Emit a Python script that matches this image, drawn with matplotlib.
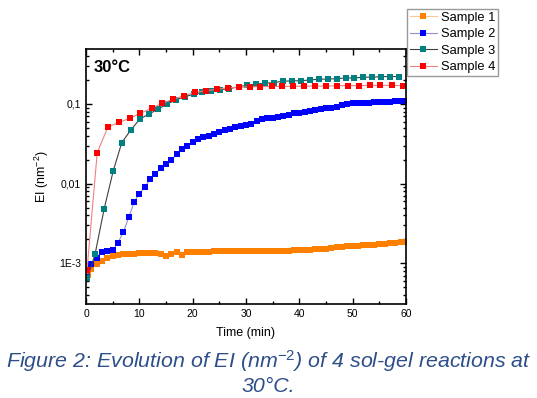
import numpy as np
import matplotlib
matplotlib.use("Agg")
import matplotlib.pyplot as plt
from matplotlib.ticker import FixedLocator, FuncFormatter, LogLocator, MultipleLocator

plt.rcParams['font.family'] = ['Liberation Sans', 'DejaVu Sans']
plt.rcParams['mathtext.fontset'] = 'custom'
plt.rcParams['mathtext.rm'] = 'Liberation Sans'
plt.rcParams['mathtext.it'] = 'Liberation Sans:italic'
plt.rcParams['mathtext.default'] = 'regular'

# Sample 1 (orange), about one point per minute
t1 = [0.3] + list(range(1, 61))
ei1 = [7.1e-4, 8.4e-4, 9.8e-4, 1.08e-3, 1.17e-3, 1.22e-3, 1.26e-3, 1.29e-3, 1.31e-3, 1.32e-3,
       1.33e-3, 1.35e-3, 1.36e-3, 1.36e-3, 1.30e-3, 1.22e-3, 1.32e-3, 1.38e-3, 1.27e-3, 1.38e-3,
       1.39e-3, 1.39e-3, 1.40e-3, 1.40e-3, 1.41e-3, 1.41e-3, 1.42e-3, 1.42e-3, 1.43e-3, 1.42e-3,
       1.42e-3, 1.42e-3, 1.43e-3, 1.43e-3, 1.42e-3, 1.43e-3, 1.43e-3, 1.44e-3, 1.44e-3, 1.45e-3,
       1.46e-3, 1.47e-3, 1.48e-3, 1.49e-3, 1.50e-3, 1.51e-3, 1.54e-3, 1.58e-3, 1.62e-3, 1.64e-3,
       1.65e-3, 1.66e-3, 1.68e-3, 1.70e-3, 1.72e-3, 1.74e-3, 1.76e-3, 1.78e-3, 1.80e-3, 1.83e-3,
       1.86e-3]

# Sample 2 (blue)
t2 = [0.25] + list(range(1, 61))
ei2 = [6.7e-4, 9.8e-4, 1.18e-3, 1.38e-3, 1.43e-3, 1.45e-3, 1.82e-3, 2.45e-3, 3.76e-3, 5.8e-3,
       7.45e-3, 9.0e-3, 0.0113, 0.0132, 0.0155, 0.0174, 0.0196, 0.0235, 0.0269, 0.0299,
       0.0336, 0.036, 0.0381, 0.040, 0.0425, 0.0445, 0.0465, 0.049, 0.051, 0.053,
       0.054, 0.0555, 0.062, 0.064, 0.066, 0.0675, 0.069, 0.071, 0.073, 0.076,
       0.078, 0.080, 0.082, 0.084, 0.086, 0.088, 0.090, 0.092, 0.097, 0.101,
       0.102, 0.103, 0.104, 0.104, 0.105, 0.105, 0.106, 0.107, 0.108, 0.109,
       0.110]

# Sample 3 (teal)
t3 = [0.25, 1.7, 3.4, 5.1, 6.7, 8.4, 10.1, 11.8, 13.5, 15.1, 16.8, 18.5, 20.2, 21.8, 23.5,
      25.2, 26.9, 28.6, 30.2, 31.9, 33.6, 35.3, 36.9, 38.6, 40.3, 42.0, 43.7, 45.3, 47.0,
      48.7, 50.3, 52.0, 53.7, 55.4, 57.0, 58.7]
ei3 = [6.5e-4, 1.3e-3, 4.8e-3, 0.0144, 0.0326, 0.0471, 0.0647, 0.0748, 0.0858, 0.099,
       0.112, 0.1235, 0.1325, 0.140, 0.145, 0.151, 0.156, 0.164, 0.172, 0.178,
       0.182, 0.186, 0.193, 0.195, 0.196, 0.200, 0.205, 0.205, 0.208, 0.212,
       0.212, 0.217, 0.217, 0.221, 0.221, 0.221]

# Sample 4 (red)
t4 = [0.2, 2.1, 4.1, 6.2, 8.2, 10.2, 12.3, 14.3, 16.3, 18.4, 20.5, 22.5, 24.6, 26.6, 28.6,
      30.7, 32.7, 34.8, 36.8, 38.9, 40.9, 43.0, 45.0, 47.0, 49.1, 51.1, 53.2, 55.2, 57.3, 59.4]
ei4 = [8.3e-4, 0.0244, 0.0514, 0.0589, 0.066, 0.0764, 0.0883, 0.102, 0.1146, 0.127,
       0.140, 0.147, 0.153, 0.160, 0.162, 0.164, 0.165, 0.166, 0.166, 0.167,
       0.167, 0.168, 0.168, 0.169, 0.170, 0.170, 0.171, 0.171, 0.171, 0.170]

series = [
    ('Sample 1', t1, ei1, '#FF8000', '#FFC890'),
    ('Sample 2', t2, ei2, '#0000FF', '#9090C8'),
    ('Sample 3', t3, ei3, '#008080', '#404040'),
    ('Sample 4', t4, ei4, '#FF0000', '#F08080'),
]

fig = plt.figure(figsize=(5.37, 3.98), dpi=100)
ax = fig.add_axes([86 / 537, 1 - 304 / 398, 320 / 537, 255 / 398])

for name, t, v, mc, lc in series:
    ax.plot(t, v, '-', color=lc, lw=0.8, marker='s', ms=5.0,
            mfc=mc, mec=mc, mew=0, label=name)

ax.set_yscale('log')
ax.set_xlim(0, 60)
ax.set_ylim(3.08e-4, 0.49)

ax.xaxis.set_major_locator(MultipleLocator(10))
ax.xaxis.set_minor_locator(MultipleLocator(5))
ax.yaxis.set_major_locator(FixedLocator([1e-3, 1e-2, 1e-1]))
ax.yaxis.set_minor_locator(LogLocator(base=10, subs=np.arange(2, 10)))
ylabels = {1e-3: '1E-3', 1e-2: '0,01', 1e-1: '0,1'}
ax.yaxis.set_major_formatter(FuncFormatter(lambda v, p: ylabels.get(round(v, 6), '')))
ax.yaxis.set_minor_formatter(FuncFormatter(lambda v, p: ''))

ax.tick_params(which='both', direction='in', top=True, right=True, labelsize=7.5, width=1)
ax.tick_params(which='major', length=4.5)
ax.tick_params(which='minor', length=2.5)
for s in ax.spines.values():
    s.set_linewidth(1.2)

ax.set_xlabel('Time (min)', fontsize=9, labelpad=6)
ax.set_ylabel('EI (nm$^{-2}$)', fontsize=9, labelpad=6)
ax.text(0.025, 0.955, '30°C', transform=ax.transAxes, fontsize=12,
        fontweight='bold', va='top', ha='left')

leg = fig.legend(loc='upper left', bbox_to_anchor=(407 / 537, 1 - 9 / 398),
                 fontsize=9.3, frameon=True, fancybox=False, borderaxespad=0,
                 handlelength=2.1, handletextpad=0.35, labelspacing=0.35,
                 borderpad=0.2, markerscale=0.85)
leg.get_frame().set_edgecolor('#808080')
leg.get_frame().set_linewidth(1.0)

caption_color = '#2D4E8A'
fig.text(0.5, 1 - 361 / 398, 'Figure 2: Evolution of EI (nm$^{\\mathit{-2}}$) of 4 sol-gel reactions at',
         ha='center', va='center', fontsize=15.4, style='italic', color=caption_color)
fig.text(0.5, 1 - 386 / 398, '30°C.', ha='center', va='center', fontsize=15.4,
         style='italic', color=caption_color)

fig.savefig('out.png', dpi=100)
